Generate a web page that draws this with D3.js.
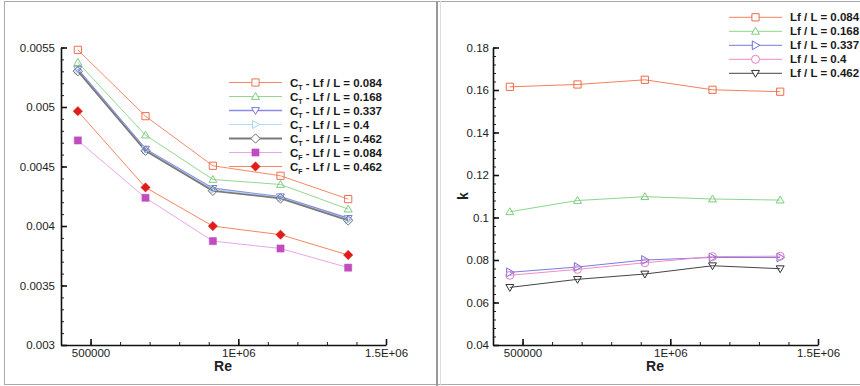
<!DOCTYPE html>
<html>
<head>
<meta charset="utf-8">
<script src="https://cdn.jsdelivr.net/npm/d3@7"></script>
<style>
  body { margin: 0; background: #fff; }
  svg { display: block; font-family: "Liberation Sans", Arial, sans-serif; }
  .tick text { fill: #222; font-size: 11.5px; }
</style>
</head>
<body>
<svg id="chart" width="860" height="386"></svg>
<script>
// Reynolds numbers (shared x values)
const reValues = [457000, 686000, 914000, 1143000, 1372000];

// Left panel: drag coefficients
const ctLf084 = [0.00548, 0.004923, 0.004506, 0.004422, 0.004226];
const ctLf168 = [0.005374, 0.004764, 0.004391, 0.004349, 0.004142];
const ctLf337 = [0.005318, 0.004646, 0.004316, 0.004246, 0.004064];
const ctLf400 = [0.00531, 0.00464, 0.00431, 0.00424, 0.004055];
const ctLf462 = [0.005301, 0.004632, 0.004296, 0.004232, 0.004047];
const cfLf084 = [0.004719, 0.004237, 0.003873, 0.003811, 0.00365];
const cfLf462 = [0.004965, 0.004324, 0.003999, 0.003927, 0.003756];

// Right panel: form factor k
const kLf084 = [0.1615, 0.1626, 0.1648, 0.1601, 0.1592];
const kLf168 = [0.1027, 0.108, 0.1098, 0.1087, 0.1082];
const kLf337 = [0.0742, 0.0767, 0.08, 0.0812, 0.0812];
const kLf400 = [0.0728, 0.0756, 0.0787, 0.0816, 0.0818];
const kLf462 = [0.0671, 0.0709, 0.0734, 0.0773, 0.0759];

// Tick values
const xTicks = [500000, 1000000, 1500000];
const xTickLabels = ["500000", "1E+06", "1.5E+06"];
const leftYTicks = [0.003, 0.0035, 0.004, 0.0045, 0.005, 0.0055];
const leftYLabels = ["0.003", "0.0035", "0.004", "0.0045", "0.005", "0.0055"];
const rightYTicks = [0.04, 0.06, 0.08, 0.1, 0.12, 0.14, 0.16, 0.18];
const rightYLabels = ["0.04", "0.06", "0.08", "0.1", "0.12", "0.14", "0.16", "0.18"];

const svg = d3.select("#chart");

// frame lines
svg.append("rect").attr("x", 4.5).attr("y", 1.5).attr("width", 870).attr("height", 383)
  .attr("fill", "none").attr("stroke", "#aaa").attr("stroke-width", 1);
svg.append("line").attr("x1", 437).attr("x2", 437).attr("y1", 1).attr("y2", 386)
  .attr("stroke", "#999").attr("stroke-width", 2);
svg.append("line").attr("x1", 440.5).attr("x2", 440.5).attr("y1", 1).attr("y2", 386)
  .attr("stroke", "#ddd").attr("stroke-width", 1);

// marker shapes
function markerPath(type, s) {
  switch (type) {
    case "square": return `M${-s},${-s}H${s}V${s}H${-s}Z`;
    case "triUp": return `M0,${-s * 1.1}L${s * 1.1},${s * 0.8}L${-s * 1.1},${s * 0.8}Z`;
    case "triDown": return `M0,${s * 1.1}L${s * 1.1},${-s * 0.8}L${-s * 1.1},${-s * 0.8}Z`;
    case "triRight": return `M${s * 1.1},0L${-s * 0.8},${s * 1.1}L${-s * 0.8},${-s * 1.1}Z`;
    case "diamond": return `M0,${-s * 1.3}L${s * 1.3},0L0,${s * 1.3}L${-s * 1.3},0Z`;
    case "circle": return `M${s},0A${s},${s} 0 1,1 ${-s},0A${s},${s} 0 1,1 ${s},0Z`;
  }
}

function drawPanel(cfg) {
  const x = d3.scaleLinear().domain([400000, 1500000]).range([cfg.left, cfg.left + 325]);
  const y = d3.scaleLinear().domain(cfg.yDomain).range([345, 47.5]);
  const g = svg.append("g");

  // minor ticks
  g.append("g").attr("transform", "translate(0,345)")
    .call(d3.axisBottom(x).tickValues(d3.range(400000, 1500001, 100000)).tickFormat("").tickSize(-3))
    .call(a => a.select(".domain").remove())
    .call(a => a.selectAll("line").attr("stroke", "#222"));
  g.append("g").attr("transform", `translate(${cfg.left},0)`)
    .call(d3.axisLeft(y).tickValues(cfg.minorY).tickFormat("").tickSize(-3))
    .call(a => a.select(".domain").remove())
    .call(a => a.selectAll("line").attr("stroke", "#222"));

  // major ticks
  g.append("g").attr("transform", "translate(0,345)")
    .call(d3.axisBottom(x).tickValues(xTicks).tickFormat((d, i) => xTickLabels[i])
      .tickSizeInner(-6).tickSizeOuter(0).tickPadding(4))
    .call(a => a.select(".domain").attr("stroke", "#111").attr("stroke-width", 1.6))
    .call(a => a.selectAll("line").attr("stroke", "#111").attr("stroke-width", 1.6));
  g.append("g").attr("transform", `translate(${cfg.left},0)`)
    .call(d3.axisLeft(y).tickValues(cfg.yTicks).tickFormat((d, i) => cfg.yLabels[i])
      .tickSizeInner(-6).tickSizeOuter(0).tickPadding(cfg.yPad))
    .call(a => a.select(".domain").attr("stroke", "#111").attr("stroke-width", 1.6))
    .call(a => a.selectAll("line").attr("stroke", "#111").attr("stroke-width", 1.6));

  // axis titles
  g.append("text").attr("x", cfg.left + 162).attr("y", 371).attr("text-anchor", "middle")
    .attr("font-size", 14).attr("font-weight", "bold").attr("fill", "#222").text("Re");
  if (cfg.yTitle) {
    g.append("text").attr("transform", `translate(${cfg.yTitle.x},${cfg.yTitle.y}) rotate(-90)`)
      .attr("text-anchor", "middle").attr("font-size", 14).attr("font-weight", "bold")
      .attr("fill", "#222").text(cfg.yTitle.text);
  }

  const line = d3.line().x((d, i) => x(reValues[i])).y(d => y(d));

  cfg.series.forEach(s => {
    g.append("path").attr("d", line(s.values)).attr("fill", "none")
      .attr("stroke", s.line).attr("stroke-width", s.lw || 1);
  });
  cfg.series.forEach(s => {
    g.selectAll(null).data(s.values).enter().append("path")
      .attr("transform", (d, i) => `translate(${x(reValues[i])},${y(d)})`)
      .attr("d", markerPath(s.marker, s.size || 3.6))
      .attr("fill", s.fill || "#fff").attr("fill-opacity", s.fill ? 1 : 0)
      .attr("stroke", s.stroke).attr("stroke-width", s.fill ? 0.5 : 1);
  });

  // legend
  const lg = svg.append("g").attr("transform", `translate(${cfg.legend.x},${cfg.legend.y})`);
  cfg.series.forEach((s, i) => {
    const row = lg.append("g").attr("transform", `translate(0,${i * 14})`);
    row.append("line").attr("x1", 0).attr("x2", 53).attr("stroke", s.line).attr("stroke-width", s.lw || 1);
    row.append("path").attr("transform", "translate(26.5,0)")
      .attr("d", markerPath(s.marker, s.size || 3.6))
      .attr("fill", s.fill || "#fff").attr("stroke", s.stroke).attr("stroke-width", s.fill ? 0.5 : 1);
    const t = row.append("text").attr("x", 61).attr("y", 4).attr("font-size", 11.5)
      .attr("font-weight", "bold").attr("fill", "#1a1a1a");
    if (s.sub) {
      t.append("tspan").text("C");
      t.append("tspan").attr("font-size", 7).attr("dy", 3).text(s.sub);
      t.append("tspan").attr("dy", -3).text(" - Lf / L = " + s.lf);
    } else {
      t.text("Lf / L = " + s.lf);
    }
  });
}

drawPanel({
  left: 61,
  yDomain: [0.003, 0.0055],
  yTicks: leftYTicks,
  yLabels: leftYLabels,
  minorY: d3.range(0, 26).map(i => 0.003 + i * 0.0001),
  yPad: 6,
  legend: { x: 229, y: 82.5 },
  series: [
    { values: ctLf084, sub: "T", lf: "0.084", line: "#f58a66", stroke: "#f07050", marker: "square" },
    { values: ctLf168, sub: "T", lf: "0.168", line: "#92d892", stroke: "#80cc80", marker: "triUp" },
    { values: ctLf337, sub: "T", lf: "0.337", line: "#8a8ae6", stroke: "#7a7ae0", marker: "triDown", lw: 1.6 },
    { values: ctLf400, sub: "T", lf: "0.4", line: "#b0dcf4", stroke: "#a0d4f2", marker: "triRight" },
    { values: ctLf462, sub: "T", lf: "0.462", line: "#7a7a7a", stroke: "#707070", marker: "diamond", lw: 1.8 },
    { values: cfLf084, sub: "F", lf: "0.084", line: "#e4a8ea", stroke: "#c050c0", fill: "#c04cc0", marker: "square" },
    { values: cfLf462, sub: "F", lf: "0.462", line: "#f5875f", stroke: "#e01c1c", fill: "#e01c1c", marker: "diamond" }
  ]
});

drawPanel({
  left: 493,
  yDomain: [0.04, 0.18],
  yTicks: rightYTicks,
  yLabels: rightYLabels,
  minorY: d3.range(0, 36).map(i => 0.04 + i * 0.004),
  yPad: 4,
  yTitle: { x: 468, y: 196, text: "k" },
  legend: { x: 729, y: 17.3 },
  series: [
    { values: kLf084, lf: "0.084", line: "#f5805a", stroke: "#f06a48", marker: "square" },
    { values: kLf168, lf: "0.168", line: "#8cd68c", stroke: "#7ccc7c", marker: "triUp" },
    { values: kLf337, lf: "0.337", line: "#7a7ae2", stroke: "#6c6ce0", marker: "triRight", size: 4 },
    { values: kLf400, lf: "0.4", line: "#f28cc6", stroke: "#ee7cc0", marker: "circle", size: 4 },
    { values: kLf462, lf: "0.462", line: "#444", stroke: "#333", marker: "triDown" }
  ]
});
</script>
</body>
</html>
